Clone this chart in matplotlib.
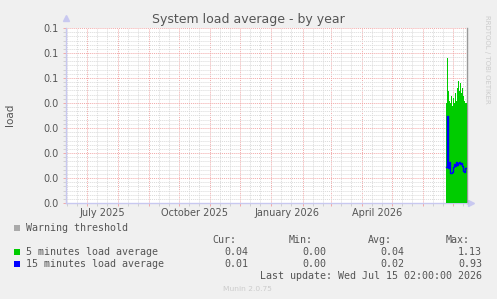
import matplotlib
matplotlib.use('Agg')
import matplotlib.pyplot as plt
import matplotlib.dates as mdates
from matplotlib.ticker import MultipleLocator, FuncFormatter, NullFormatter
from datetime import datetime, timedelta

W, H = 497, 299

# data (daily values, last weeks only)
days = [datetime(2026, 6, 24) + timedelta(days=i) for i in range(22)]
load_5min = [0.040, 0.058, 0.045, 0.041, 0.040, 0.043, 0.039, 0.042, 0.040, 0.044, 0.041,
			 0.046, 0.049, 0.045, 0.048, 0.044, 0.046, 0.043, 0.041, 0.040, 0.040, 0.040]
load_15min = [0.0145, 0.0348, 0.0140, 0.0165, 0.0121, 0.0121, 0.0125, 0.0145, 0.0156, 0.0150, 0.0165,
			  0.0152, 0.0160, 0.0165, 0.0156, 0.0160, 0.0148, 0.0130, 0.0125, 0.0139, 0.0139, 0.0139]

month_labels = ['July 2025', 'October 2025', 'January 2026', 'April 2026']
label_dates = [datetime(2025, 7, 16, 12), datetime(2025, 10, 16, 12), datetime(2026, 1, 16, 12), datetime(2026, 4, 16, 12)]

series_names = ['5 minutes load average', '15 minutes load average']
series_colors = ['#00CC00', '#0000FF']
stat_cur = ['0.04', '0.01']
stat_min = ['0.00', '0.00']
stat_avg = ['0.04', '0.02']
stat_max = ['1.13', '0.93']

start = datetime(2025, 6, 10, 2)
end = datetime(2026, 7, 15, 2)

TXT = '#555555'
AXC = '#C8C8F0'


def fx(x):
	return x / W


def fy(y):
	return 1 - y / H


fig = plt.figure(figsize=(W / 100, H / 100), dpi=100, facecolor='#F0F0F0')
ax = fig.add_axes([fx(66), fy(203), (467 - 66) / W, (203 - 28) / H])
ax.set_facecolor('white')

ax.fill_between(days, 0, load_5min, step='post', color=series_colors[0], linewidth=0, zorder=3)
ax.plot(days, load_15min, drawstyle='steps-post', color=series_colors[1], linewidth=1, zorder=4)

ax.set_xlim(start, end)
ax.set_ylim(0, 0.07)

# grid
ax.xaxis.set_major_locator(mdates.MonthLocator())
ax.xaxis.set_minor_locator(mdates.DayLocator(bymonthday=[11, 21]))
ax.xaxis.set_major_formatter(NullFormatter())
ax.yaxis.set_major_locator(MultipleLocator(0.01))
ax.yaxis.set_minor_locator(MultipleLocator(0.01 / 6))
# rrdtool rounds half up: 0.05 -> 0.1
ax.yaxis.set_major_formatter(FuncFormatter(lambda v, p: '%.1f' % (v + 1e-9)))
ax.grid(which='major', color='#F2A8A8', linestyle=(0, (1, 1)), linewidth=0.7, zorder=1)
ax.grid(which='minor', color='#DADADA', linestyle=(0, (1, 1)), linewidth=0.7, zorder=0)
ax.set_axisbelow(True)
ax.tick_params(which='major', length=2, width=0.7, color='#F2A8A8', labelsize=7, labelcolor=TXT, pad=3)
ax.tick_params(which='minor', length=2, width=0.7, color='#D0D0D0')

for lab, d in zip(month_labels, label_dates):
	ax.text(mdates.date2num(d), -0.03, lab, transform=ax.get_xaxis_transform(), ha='center', va='top',
			fontsize=7, color=TXT)

for side in ['left', 'bottom']:
	ax.spines[side].set_color(AXC)
	ax.spines[side].set_linewidth(1)
ax.spines['top'].set_visible(False)
ax.spines['right'].set_color('#999999')
ax.spines['right'].set_linewidth(1)
ax.plot([0], [1.06], marker='^', markersize=4, color=AXC, transform=ax.transAxes, clip_on=False)
ax.plot([1.01], [0], marker='>', markersize=4, color=AXC, transform=ax.transAxes, clip_on=False)

fig.text(fx(248), fy(19), 'System load average - by year', ha='center', va='center', fontsize=9, color=TXT)
fig.text(fx(10), fy(115), 'load', ha='center', va='center', rotation=90, fontsize=7.5, color=TXT)
fig.text(fx(487), fy(59), 'RRDTOOL / TOBI OETIKER', ha='center', va='center', rotation=270, fontsize=5,
		 color='#CCCCCC')

# legend block
mono = dict(family='DejaVu Sans Mono', fontsize=7.2, color=TXT, va='center')


def square(y, color):
	fig.patches.append(plt.Rectangle((fx(14), fy(y + 3)), 6 / W, 6 / H, transform=fig.transFigure,
									 facecolor=color, edgecolor='none'))


square(228, '#AAAAAA')
fig.text(fx(26), fy(228), 'Warning threshold', ha='left', **mono)
for head, xr in zip(['Cur:', 'Min:', 'Avg:', 'Max:'], [236, 313, 392, 470]):
	fig.text(fx(xr), fy(240), head, ha='right', **mono)
for i, name in enumerate(series_names):
	y = 252 + 12 * i
	square(y, series_colors[i])
	fig.text(fx(26), fy(y), name, ha='left', **mono)
	for val, xr in zip([stat_cur[i], stat_min[i], stat_avg[i], stat_max[i]], [248, 326, 404, 482]):
		fig.text(fx(xr), fy(y), val, ha='right', **mono)
fig.text(fx(482), fy(276), 'Last update: Wed Jul 15 02:00:00 2026', ha='right', **mono)
fig.text(fx(247), fy(289), 'Munin 2.0.75', ha='center', va='center', fontsize=5.4, color='#CCCCCC')

fig.savefig('out.png', dpi=100, facecolor=fig.get_facecolor())
